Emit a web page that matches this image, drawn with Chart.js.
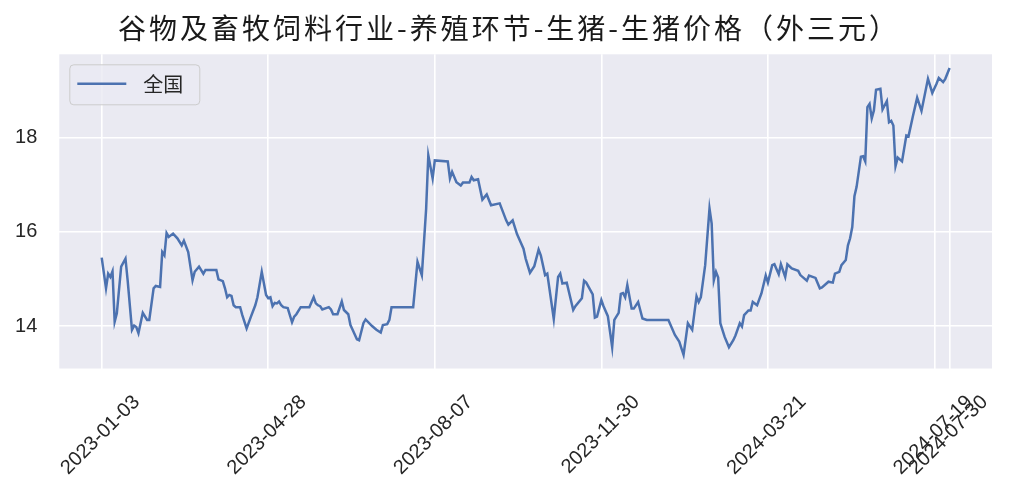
<!DOCTYPE html>
<html>
<head>
<meta charset="utf-8">
<script src="https://cdn.jsdelivr.net/npm/chart.js@4"></script>
<style>
  html, body { margin: 0; padding: 0; background: #fff; }
  #wrap { width: 1015px; height: 500px; }
</style>
</head>
<body>
<div id="wrap"><canvas id="chart" width="1015" height="500"></canvas></div>
<script>
const title = '谷物及畜牧饲料行业-养殖环节-生猪-生猪价格（外三元）';
const seriesName = '全国';

// x positions are the row numbers of the daily table
const tickIdx = [0, 77, 154, 231, 308, 385, 392];
const tickDates = ['2023-01-03', '2023-04-28', '2023-08-07', '2023-11-30', '2024-03-21', '2024-07-19', '2024-07-30'];
const yTicks = [14, 16, 18];

const rowIdx = [
  0, 2, 3, 4, 5, 6, 7, 9, 11, 12, 14, 15, 16, 17, 19, 21, 22, 24, 25, 27,
  28, 29, 30, 31, 33, 35, 37, 38, 40, 42, 43, 45, 47, 48, 53, 54, 56, 57, 58, 59,
  60, 61, 62, 64, 65, 67, 69, 71, 72, 74, 76, 77, 78, 79, 80, 81, 82, 83, 84, 86,
  88, 89, 90, 92, 96, 98, 99, 100, 101, 102, 105, 106, 107, 109, 111, 112, 114, 115, 116, 118,
  119, 121, 122, 125, 127, 129, 130, 132, 133, 134, 144, 146, 148, 150, 151, 153, 154, 160, 161, 162,
  164, 166, 167, 170, 171, 172, 174, 176, 178, 180, 184, 187, 188, 190, 192, 195, 196, 198, 200, 202,
  203, 205, 206, 209, 211, 212, 213, 215, 218, 219, 222, 223, 224, 227, 228, 229, 231, 232, 234, 235,
  236, 237, 239, 240, 241, 242, 243, 245, 246, 248, 250, 252, 262, 265, 267, 269, 271, 273, 275, 276,
  277, 279, 281, 282, 283, 284, 285, 286, 288, 290, 292, 293, 295, 296, 297, 299, 300, 301, 303, 305,
  307, 308, 310, 311, 313, 314, 316, 317, 319, 322, 323, 326, 327, 330, 332, 333, 336, 338, 339, 341,
  342, 344, 345, 346, 347, 348, 349, 351, 352, 353, 354, 355, 356, 357, 358, 360, 361, 363, 364, 365,
  366, 367, 368, 370, 372, 373, 375, 376, 377, 379, 382, 384, 386, 387, 389, 390, 392,
];

const price = [
  15.45, 14.80, 15.11, 15.04, 15.16, 14.09, 14.27, 15.26, 15.43, 14.97, 13.92, 14.01, 13.98, 13.85, 14.28, 14.13, 14.13, 14.80, 14.85, 14.83,
  15.57, 15.50, 15.97, 15.89, 15.96, 15.86, 15.71, 15.81, 15.57, 14.97, 15.15, 15.26, 15.11, 15.19, 15.19, 14.99, 14.95, 14.80, 14.61, 14.66,
  14.64, 14.44, 14.40, 14.40, 14.23, 13.95, 14.20, 14.44, 14.61, 15.15, 14.66, 14.59, 14.61, 14.42, 14.49, 14.48, 14.52, 14.44, 14.40, 14.38,
  14.08, 14.20, 14.25, 14.40, 14.40, 14.61, 14.48, 14.44, 14.42, 14.35, 14.40, 14.35, 14.25, 14.25, 14.52, 14.34, 14.25, 14.02, 13.92, 13.72,
  13.70, 14.06, 14.14, 14.00, 13.92, 13.86, 14.02, 14.04, 14.13, 14.40, 14.40, 15.36, 15.08, 16.49, 17.62, 17.13, 17.51, 17.49, 17.13, 17.27,
  17.05, 16.98, 17.04, 17.04, 17.16, 17.09, 17.11, 16.68, 16.79, 16.56, 16.60, 16.24, 16.15, 16.24, 15.95, 15.64, 15.43, 15.13, 15.27, 15.62,
  15.50, 15.08, 15.11, 14.15, 15.04, 15.11, 14.90, 14.92, 14.34, 14.42, 14.59, 14.96, 14.92, 14.67, 14.18, 14.20, 14.55, 14.42, 14.21, 13.88,
  13.55, 14.13, 14.28, 14.68, 14.70, 14.61, 14.87, 14.37, 14.37, 14.51, 14.16, 14.13, 14.13, 13.81, 13.67, 13.39, 14.06, 13.92, 14.63, 14.51,
  14.61, 15.29, 16.49, 16.17, 14.97, 15.15, 15.03, 14.06, 13.77, 13.55, 13.70, 13.80, 14.06, 13.99, 14.23, 14.33, 14.33, 14.51, 14.44, 14.69,
  15.07, 14.92, 15.29, 15.31, 15.10, 15.31, 15.04, 15.31, 15.22, 15.17, 15.08, 14.96, 15.07, 15.02, 14.80, 14.82, 14.94, 14.92, 15.11, 15.15,
  15.29, 15.40, 15.71, 15.86, 16.10, 16.75, 16.95, 17.59, 17.60, 17.49, 18.64, 18.71, 18.40, 18.57, 19.01, 19.03, 18.59, 18.77, 18.32, 18.35,
  18.25, 17.39, 17.57, 17.49, 18.04, 18.02, 18.44, 18.64, 18.84, 18.56, 19.24, 18.94, 19.14, 19.26, 19.17, 19.24, 19.47,
];

const BLUE = '#4C72B0';
const PANEL = '#EAEAF2';
const TEXT = '#262626';
const tickFont = { family: '"Liberation Sans", Arial, sans-serif', size: 20 };

// grey panel behind the plot
const panelBg = {
  id: 'panelBg',
  beforeDraw(chart) {
    const { ctx, chartArea: a } = chart;
    ctx.save();
    ctx.fillStyle = '#fff';
    ctx.fillRect(0, 0, chart.width, chart.height);
    ctx.fillStyle = PANEL;
    ctx.fillRect(a.left, a.top, a.right - a.left, a.bottom - a.top);
    ctx.restore();
  },
};

// title drawn by hand so the wide CJK spacing can be matched
const spacedTitle = {
  id: 'spacedTitle',
  afterDraw(chart) {
    const { ctx } = chart;
    ctx.save();
    ctx.font = '28px "Noto Sans CJK SC", sans-serif';
    ctx.fillStyle = '#1a1a1a';
    ctx.textBaseline = 'middle';
    ctx.textAlign = 'center';
    if ('letterSpacing' in ctx) ctx.letterSpacing = '3px';
    ctx.fillText(title, 509, 28);
    ctx.restore();
  },
};

// matplotlib-like framed legend in the upper left corner
const boxLegend = {
  id: 'boxLegend',
  afterDatasetsDraw(chart) {
    const { ctx, chartArea: a } = chart;
    const ds = chart.data.datasets[0];
    const x = a.left + 10, y = a.top + 10, w = 130, h = 40;
    ctx.save();
    ctx.beginPath();
    ctx.roundRect(x + 0.5, y + 0.5, w, h, 4);
    ctx.fillStyle = 'rgba(234,234,242,0.8)';
    ctx.fill();
    ctx.strokeStyle = '#cccccc';
    ctx.lineWidth = 1;
    ctx.stroke();
    ctx.beginPath();
    ctx.moveTo(x + 8, y + 19.5);
    ctx.lineTo(x + 57, y + 19.5);
    ctx.strokeStyle = ds.borderColor;
    ctx.lineWidth = 2.4;
    ctx.stroke();
    ctx.fillStyle = TEXT;
    ctx.font = '20px "Noto Sans CJK SC", sans-serif';
    ctx.textBaseline = 'middle';
    ctx.fillText(ds.label, x + 74, y + 20);
    ctx.restore();
  },
};

new Chart(document.getElementById('chart'), {
  type: 'line',
  data: {
    datasets: [{
      label: seriesName,
      data: rowIdx.map((r, i) => ({ x: r, y: price[i] })),
      borderColor: BLUE,
      borderWidth: 2.5,
      pointRadius: 0,
      tension: 0,
      fill: false,
    }],
  },
  options: {
    responsive: false,
    animation: false,
    devicePixelRatio: 1,
    layout: { padding: { left: 0, right: 23, top: 54.3, bottom: 0 } },
    plugins: {
      legend: { display: false },
      tooltip: { enabled: false },
      title: { display: false },
    },
    scales: {
      x: {
        type: 'linear',
        min: -19.6,
        max: 411.6,
        afterBuildTicks: (axis) => { axis.ticks = tickIdx.map((v) => ({ value: v })); },
        afterFit: (axis) => { axis.height = 131.5; axis.paddingLeft = 0; axis.paddingRight = 0; },
        border: { display: false },
        grid: { color: '#ffffff', lineWidth: 1.6, drawTicks: false },
        ticks: {
          autoSkip: false,
          minRotation: 45,
          maxRotation: 45,
          padding: 22,
          labelOffset: 35,
          color: TEXT,
          font: tickFont,
          callback: (v, i) => tickDates[i],
        },
      },
      y: {
        min: 13.1,
        max: 19.76,
        afterBuildTicks: (axis) => { axis.ticks = yTicks.map((v) => ({ value: v })); },
        afterFit: (axis) => { axis.width = 59.3; },
        border: { display: false },
        grid: { color: '#ffffff', lineWidth: 1.6, drawTicks: false },
        ticks: { padding: 22, color: TEXT, font: tickFont },
      },
    },
  },
  plugins: [panelBg, spacedTitle, boxLegend],
});
</script>
</body>
</html>
